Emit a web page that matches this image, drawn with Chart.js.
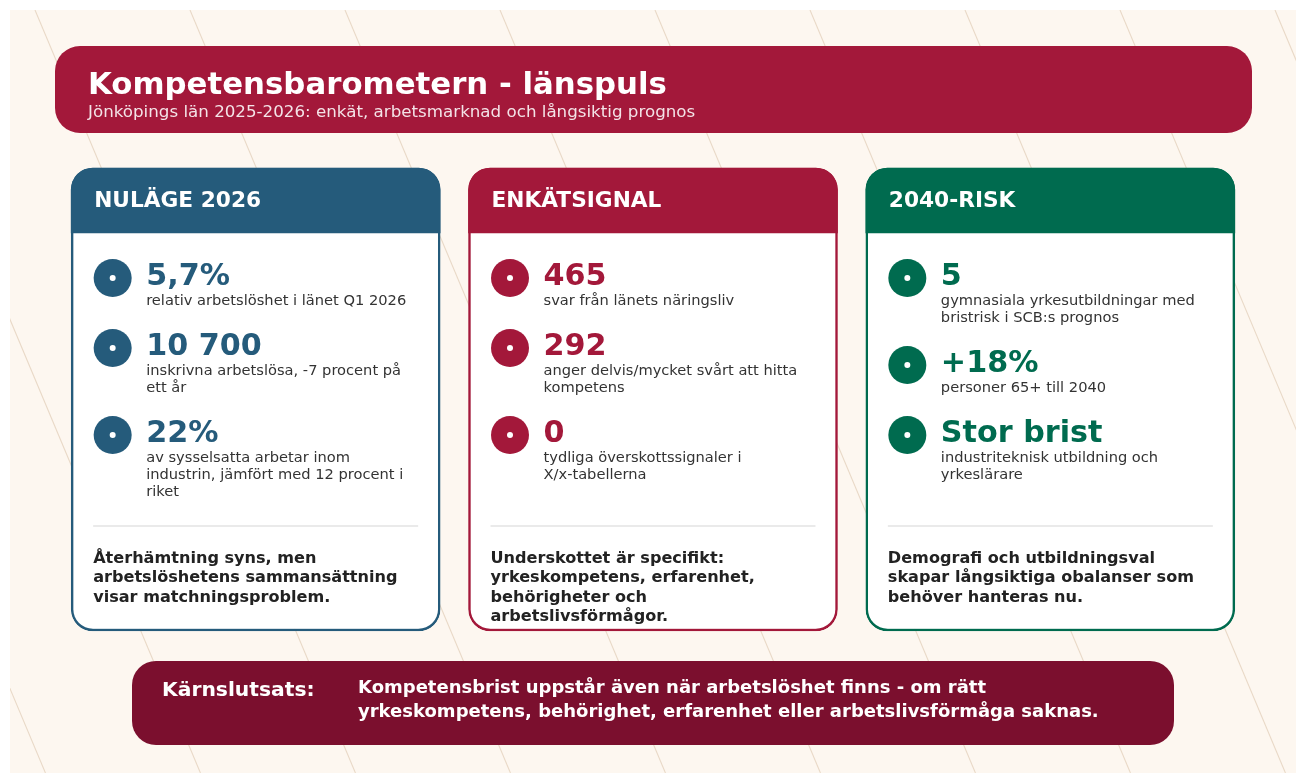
<!DOCTYPE html>
<html lang="sv">
<head>
<meta charset="utf-8">
<title>Kompetensbarometern - länspuls</title>
<script src="https://cdn.jsdelivr.net/npm/chart.js@4.4.1/dist/chart.umd.min.js"></script>
<style>
  html, body { margin: 0; padding: 0; background: #ffffff; }
  canvas { display: block; }
</style>
</head>
<body>
<canvas id="board" width="1299" height="773"></canvas>
<script>
// Texts and figures
const headline = 'Kompetensbarometern - länspuls';
const subline = 'Jönköpings län 2025-2026: enkät, arbetsmarknad och långsiktig prognos';

const cardTitles = ['NULÄGE 2026', 'ENKÄTSIGNAL', '2040-RISK'];

const kpiValues = [
  ['5,7%', '10 700', '22%'],
  ['465', '292', '0'],
  ['5', '+18%', 'Stor brist']
];

const kpiLabels = [
  [
    ['relativ arbetslöshet i länet Q1 2026'],
    ['inskrivna arbetslösa, -7 procent på', 'ett år'],
    ['av sysselsatta arbetar inom', 'industrin, jämfört med 12 procent i', 'riket']
  ],
  [
    ['svar från länets näringsliv'],
    ['anger delvis/mycket svårt att hitta', 'kompetens'],
    ['tydliga överskottssignaler i', 'X/x-tabellerna']
  ],
  [
    ['gymnasiala yrkesutbildningar med', 'bristrisk i SCB:s prognos'],
    ['personer 65+ till 2040'],
    ['industriteknisk utbildning och', 'yrkeslärare']
  ]
];

const takeaways = [
  ['Återhämtning syns, men', 'arbetslöshetens sammansättning', 'visar matchningsproblem.'],
  ['Underskottet är specifikt:', 'yrkeskompetens, erfarenhet,', 'behörigheter och', 'arbetslivsförmågor.'],
  ['Demografi och utbildningsval', 'skapar långsiktiga obalanser som', 'behöver hanteras nu.']
];

const coreLabel = 'Kärnslutsats:';
const coreLines = [
  'Kompetensbrist uppstår även när arbetslöshet finns - om rätt',
  'yrkeskompetens, behörighet, erfarenhet eller arbetslivsförmåga saknas.'
];

// Palette
const cardColors = ['#255b7b', '#a3183a', '#006b4f'];
const headerColor = '#a3183a';
const footerColor = '#7b0f2e';
const cream = '#fdf7f0';
const FONT = '"DejaVu Sans", "Liberation Sans", sans-serif';

// card frame (top / header band bottom / bottom) on the hidden y scale
const cardSpan = [168, 631];
const bandSpan = [168, 233];

function roundedPath(ctx, x, y, w, h, r) {
  ctx.beginPath();
  ctx.moveTo(x + r, y);
  ctx.lineTo(x + w - r, y);
  ctx.arcTo(x + w, y, x + w, y + r, r);
  ctx.lineTo(x + w, y + h - r);
  ctx.arcTo(x + w, y + h, x + w - r, y + h, r);
  ctx.lineTo(x + r, y + h);
  ctx.arcTo(x, y + h, x, y + h - r, r);
  ctx.lineTo(x, y + r);
  ctx.arcTo(x, y, x + r, y, r);
  ctx.closePath();
}

const backdrop = {
  id: 'backdrop',
  beforeDraw(chart) {
    const ctx = chart.ctx;
    const y = chart.scales.y;
    ctx.save();
    ctx.fillStyle = '#ffffff';
    ctx.fillRect(0, 0, chart.width, chart.height);

    // cream sheet with diagonal hairlines
    const top = y.getPixelForValue(10), bottom = y.getPixelForValue(773);
    ctx.fillStyle = cream;
    ctx.fillRect(10, top, 1286, bottom - top);
    ctx.beginPath();
    ctx.rect(10, top, 1286, bottom - top);
    ctx.clip();
    ctx.strokeStyle = '#e9d9c7';
    ctx.lineWidth = 1.1;
    for (let k = -4; k < 10; k++) {
      const x0 = 35 + 155 * k;
      ctx.beginPath();
      ctx.moveTo(x0, top);
      ctx.lineTo(x0 + 0.42 * (bottom - top), bottom);
      ctx.stroke();
    }
    ctx.restore();

    // title banner
    ctx.save();
    ctx.fillStyle = headerColor;
    roundedPath(ctx, 55, y.getPixelForValue(46), 1197, 87, 25);
    ctx.fill();
    ctx.fillStyle = '#ffffff';
    ctx.textBaseline = 'alphabetic';
    ctx.font = 'bold 30.8px ' + FONT;
    ctx.fillText(headline, 88, y.getPixelForValue(94));
    ctx.fillStyle = 'rgba(255,255,255,0.88)';
    ctx.font = '16.7px ' + FONT;
    ctx.fillText(subline, 88, y.getPixelForValue(117));

    // bottom conclusion banner
    ctx.fillStyle = footerColor;
    roundedPath(ctx, 132, y.getPixelForValue(661), 1042, 84, 24);
    ctx.fill();
    ctx.fillStyle = '#ffffff';
    ctx.font = 'bold 20.3px ' + FONT;
    ctx.fillText(coreLabel, 162, y.getPixelForValue(696));
    ctx.font = 'bold 18px ' + FONT;
    coreLines.forEach((line, j) => {
      ctx.fillText(line, 358, y.getPixelForValue(693 + 24 * j));
    });
    ctx.restore();
  }
};

const cardText = {
  id: 'cardText',
  afterDatasetsDraw(chart) {
    const ctx = chart.ctx;
    const xs = chart.scales.x, ys = chart.scales.y;
    ctx.save();
    ctx.textBaseline = 'alphabetic';
    cardTitles.forEach((title, i) => {
      const left = xs.getPixelForValue(i) - 184.5;
      const color = cardColors[i];

      ctx.fillStyle = '#ffffff';
      ctx.font = 'bold 21.7px ' + FONT;
      ctx.fillText(title, left + 23, ys.getPixelForValue(207));

      let cy = 278;
      kpiValues[i].forEach((value, k) => {
        const py = ys.getPixelForValue(cy);
        ctx.fillStyle = color;
        ctx.beginPath();
        ctx.arc(left + 41.5, py, 19, 0, Math.PI * 2);
        ctx.fill();
        ctx.fillStyle = '#ffffff';
        ctx.beginPath();
        ctx.arc(left + 41.5, py, 3, 0, Math.PI * 2);
        ctx.fill();

        ctx.fillStyle = color;
        ctx.font = 'bold 30.2px ' + FONT;
        ctx.fillText(value, left + 75, ys.getPixelForValue(cy + 6.5));

        ctx.fillStyle = '#333333';
        ctx.font = '14.65px ' + FONT;
        const lines = kpiLabels[i][k];
        lines.forEach((line, j) => {
          ctx.fillText(line, left + 75, ys.getPixelForValue(cy + 26.5 + 17 * j));
        });
        cy += 53 + 17 * lines.length;
      });

      ctx.strokeStyle = '#e3e3e3';
      ctx.lineWidth = 1.5;
      ctx.beginPath();
      ctx.moveTo(left + 22, ys.getPixelForValue(526));
      ctx.lineTo(left + 347, ys.getPixelForValue(526));
      ctx.stroke();

      ctx.fillStyle = '#222222';
      ctx.font = 'bold 16.1px ' + FONT;
      takeaways[i].forEach((line, j) => {
        ctx.fillText(line, left + 22, ys.getPixelForValue(563 + 19.4 * j));
      });
    });
    ctx.restore();
  }
};

new Chart(document.getElementById('board'), {
  type: 'bar',
  data: {
    labels: cardTitles,
    datasets: [
      {
        // white card bodies with coloured frame
        data: cardTitles.map(() => cardSpan),
        backgroundColor: '#ffffff',
        borderColor: cardColors,
        borderWidth: 2.5,
        borderRadius: 22,
        borderSkipped: false,
        barThickness: 369,
        grouped: false,
        order: 2
      },
      {
        // coloured header bands
        data: cardTitles.map(() => bandSpan),
        backgroundColor: cardColors,
        borderWidth: 0,
        borderRadius: { topLeft: 22, topRight: 22, bottomLeft: 0, bottomRight: 0 },
        borderSkipped: false,
        barThickness: 369,
        grouped: false,
        order: 1
      }
    ]
  },
  options: {
    responsive: false,
    animation: false,
    devicePixelRatio: 1,
    layout: { padding: { left: 57, right: 50, top: 0, bottom: 0 } },
    scales: {
      x: { type: 'category', display: false, offset: true },
      y: { type: 'linear', display: false, min: 0, max: 773, reverse: true }
    },
    plugins: {
      legend: { display: false },
      tooltip: { enabled: false },
      title: { display: false }
    }
  },
  plugins: [backdrop, cardText]
});
</script>
</body>
</html>
